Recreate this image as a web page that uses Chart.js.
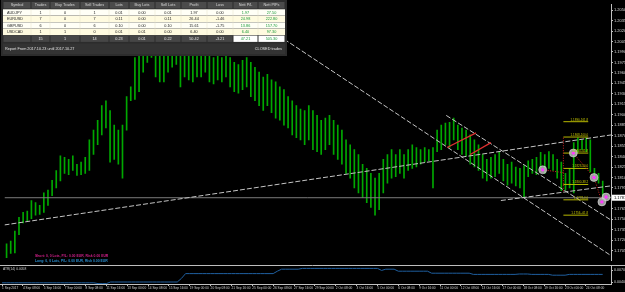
<!DOCTYPE html>
<html>
<head>
<meta charset="utf-8">
<script src="https://cdn.jsdelivr.net/npm/chart.js@4.4.1/dist/chart.umd.min.js"></script>
<style>
  html, body { margin: 0; padding: 0; background: #000; }
  #wrap { position: relative; width: 625px; height: 292px; background: #000; overflow: hidden; }
  #priceCanvas { position: absolute; left: 0; top: 0; }
  #atrCanvas { position: absolute; left: 0; top: 265px; }
</style>
</head>
<body>
<div id="wrap">
  <canvas id="priceCanvas" width="625" height="265"></canvas>
  <canvas id="atrCanvas" width="625" height="27"></canvas>
</div>
<script>
// H4 bars, one entry per bar (high / low)
const barHigh = [
  1.1715, 1.1719, 1.1733, 1.1753, 1.1760, 1.1762, 1.1777, 1.1774, 1.1770, 1.1788,
  1.1792, 1.1806, 1.1820, 1.1841, 1.1839, 1.1836, 1.1841, 1.1829, 1.1832, 1.1839,
  1.1864, 1.1878, 1.1892, 1.1913, 1.1920, 1.1906, 1.1885, 1.1878, 1.1885, 1.1926,
  1.1940, 1.1982, 1.1996, 1.2016, 1.2023, 1.2030, 1.2023, 1.2016, 1.2010, 1.2003,
  1.2010, 1.2016, 1.2010, 1.2003, 1.1996, 1.1989, 1.1996, 1.2016, 1.2010, 1.1996,
  1.1982, 1.1989, 1.1982, 1.1989, 1.1982, 1.1975, 1.1972, 1.1978, 1.1982, 1.1975,
  1.1968, 1.1961, 1.1954, 1.1958, 1.1950, 1.1947, 1.1940, 1.1936, 1.1926, 1.1920,
  1.1913, 1.1908, 1.1906, 1.1913, 1.1906, 1.1899, 1.1892, 1.1895, 1.1899, 1.1892,
  1.1885, 1.1878, 1.1864, 1.1857, 1.1850, 1.1843, 1.1829, 1.1823, 1.1816, 1.1809,
  1.1816, 1.1836, 1.1843, 1.1850, 1.1843, 1.1850, 1.1843, 1.1850, 1.1857, 1.1853,
  1.1850, 1.1853, 1.1850, 1.1853, 1.1878, 1.1885, 1.1888, 1.1889, 1.1895, 1.1885,
  1.1881, 1.1878, 1.1871, 1.1864, 1.1857, 1.1843, 1.1836, 1.1839, 1.1843, 1.1846,
  1.1836, 1.1829, 1.1832, 1.1825, 1.1823, 1.1827, 1.1834, 1.1836, 1.1839, 1.1846,
  1.1843, 1.1847, 1.1843, 1.1836, 1.1832, 1.1816, 1.1823, 1.1860, 1.1867, 1.1864,
  1.1867, 1.1864, 1.1823, 1.1816, 1.1805
];
const barLow = [
  1.1695, 1.1701, 1.1702, 1.1728, 1.1745, 1.1748, 1.1751, 1.1756, 1.1757, 1.1760,
  1.1770, 1.1784, 1.1795, 1.1805, 1.1816, 1.1814, 1.1820, 1.1813, 1.1814, 1.1816,
  1.1820, 1.1843, 1.1857, 1.1871, 1.1881, 1.1832, 1.1836, 1.1829, 1.1809, 1.1878,
  1.1920, 1.1922, 1.1933, 1.1961, 1.1975, 1.1982, 1.1954, 1.1947, 1.1947, 1.1961,
  1.1968, 1.1972, 1.1940, 1.1954, 1.1950, 1.1947, 1.1954, 1.1954, 1.1961, 1.1947,
  1.1944, 1.1950, 1.1947, 1.1954, 1.1940, 1.1933, 1.1931, 1.1936, 1.1940, 1.1926,
  1.1920, 1.1913, 1.1906, 1.1913, 1.1903, 1.1895, 1.1892, 1.1885, 1.1881, 1.1871,
  1.1867, 1.1864, 1.1857, 1.1864, 1.1850, 1.1847, 1.1843, 1.1850, 1.1857, 1.1843,
  1.1836, 1.1829, 1.1816, 1.1809, 1.1795, 1.1788, 1.1781, 1.1774, 1.1767, 1.1756,
  1.1764, 1.1788, 1.1802, 1.1809, 1.1811, 1.1816, 1.1809, 1.1820, 1.1823, 1.1825,
  1.1829, 1.1832, 1.1834, 1.1795, 1.1847, 1.1850, 1.1857, 1.1853, 1.1864, 1.1850,
  1.1843, 1.1841, 1.1829, 1.1825, 1.1820, 1.1809, 1.1805, 1.1809, 1.1811, 1.1816,
  1.1805, 1.1799, 1.1802, 1.1798, 1.1795, 1.1781, 1.1811, 1.1816, 1.1814, 1.1820,
  1.1816, 1.1823, 1.1820, 1.1809, 1.1791, 1.1792, 1.1795, 1.1788, 1.1846, 1.1850,
  1.1847, 1.1818, 1.1805, 1.1802, 1.1781
];
const atrValues = [
  0.0039, 0.0039, 0.0039, 0.0039, 0.0039, 0.0039, 0.0039, 0.0039, 0.0039, 0.0039,
  0.0039, 0.0039, 0.0039, 0.0039, 0.0039, 0.0039, 0.0039, 0.0039, 0.0039, 0.0039,
  0.0039, 0.0039, 0.0039, 0.0037, 0.0037, 0.0037, 0.0041, 0.0041, 0.0041, 0.0041,
  0.0041, 0.0041, 0.0041, 0.0041, 0.0041, 0.0041, 0.0041, 0.0041, 0.0041, 0.0041,
  0.0041, 0.0041, 0.0041, 0.0050, 0.0062, 0.0062, 0.0062, 0.0062, 0.0062, 0.0062,
  0.0062, 0.0062, 0.0062, 0.0062, 0.0062, 0.0062, 0.0062, 0.0062, 0.0062, 0.0062,
  0.0062, 0.0062, 0.0062, 0.0062, 0.0062, 0.0062, 0.0068, 0.0073, 0.0073, 0.0073,
  0.0073, 0.0073, 0.0075, 0.0075, 0.0075, 0.0075, 0.0075, 0.0075, 0.0075, 0.0075,
  0.0075, 0.0075, 0.0075, 0.0075, 0.0075, 0.0075, 0.0075, 0.0075, 0.0075, 0.0075,
  0.0075, 0.0070, 0.0073, 0.0073, 0.0073, 0.0068, 0.0068, 0.0068, 0.0068, 0.0068,
  0.0068, 0.0068, 0.0068, 0.0063, 0.0063, 0.0063, 0.0063, 0.0063, 0.0063, 0.0063,
  0.0063, 0.0063, 0.0063, 0.0060, 0.0060, 0.0060, 0.0060, 0.0060, 0.0060, 0.0060,
  0.0060, 0.0060, 0.0060, 0.0060, 0.0061, 0.0061, 0.0061, 0.0060, 0.0060, 0.0060,
  0.0060, 0.0060, 0.0058, 0.0058, 0.0058, 0.0058, 0.0060, 0.0060, 0.0060, 0.0060,
  0.0060, 0.0060, 0.0060, 0.0060, 0.0060
];

// axis ticks
const priceTicks = [
  1.2050, 1.2035, 1.2020, 1.2005, 1.1990, 1.1975, 1.1960, 1.1945, 1.1930, 1.1915,
  1.1900, 1.1885, 1.1870, 1.1855, 1.1840, 1.1825, 1.1810, 1.1795, 1.1780, 1.1765,
  1.1750, 1.1735, 1.1720, 1.1705
];
const atrTicks = [0.0070, 0.0040];
const xTickBars = [0, 5, 10, 15, 20, 25, 30, 35, 40, 45, 50, 55, 60, 65, 70, 75, 80, 85, 90, 95, 100, 105, 110, 115, 120, 125, 130, 135, 140];
const xTickLabels = [
  '1 Sep 2017', '4 Sep 08:00', '5 Sep 16:00', '7 Sep 00:00', '8 Sep 08:00', '11 Sep 16:00',
  '13 Sep 00:00', '14 Sep 08:00', '15 Sep 16:00', '19 Sep 00:00', '20 Sep 08:00', '21 Sep 16:00',
  '25 Sep 00:00', '26 Sep 08:00', '27 Sep 16:00', '29 Sep 00:00', '2 Oct 08:00', '3 Oct 16:00',
  '5 Oct 00:00', '6 Oct 08:00', '9 Oct 16:00', '11 Oct 00:00', '12 Oct 08:00', '13 Oct 16:00',
  '17 Oct 00:00', '18 Oct 08:00', '19 Oct 16:00', '23 Oct 00:00', '24 Oct 08:00'
];
const currentPrice = 1.1781;
const atrLabel = 'ATR(14) 0.0058';

// drawn objects (bar index, price)
const trendLines = [
  [{ x: -0.5, y: 1.1742 }, { x: 146, y: 1.1871 }],
  [{ x: 119.4, y: 1.1777 }, { x: 146, y: 1.1798 }],
  [{ x: 54.4, y: 1.2058 }, { x: 146, y: 1.1698 }],
  [{ x: 106.2, y: 1.1899 }, { x: 146, y: 1.1749 }]
];
const redLines = [
  [{ x: 106.4, y: 1.1853 }, { x: 113.4, y: 1.1874 }],
  [{ x: 112.0, y: 1.1843 }, { x: 117.0, y: 1.1860 }]
];
const tradeLinks = [
  [{ x: 129.5, y: 1.1821 }, { x: 134.5, y: 1.1817 }],
  [{ x: 134.5, y: 1.1867 }, { x: 134.5, y: 1.1788 }],
  [{ x: 136.9, y: 1.1845 }, { x: 141.9, y: 1.1810 }],
  [{ x: 141.9, y: 1.1810 }, { x: 143.8, y: 1.1775 }]
];
const tradeMarks = [
  { x: 129.5, y: 1.1821 }, { x: 136.9, y: 1.1845 }, { x: 141.9, y: 1.1810 },
  { x: 144.8, y: 1.1782 }, { x: 143.8, y: 1.1775 }
];
const levelFrom = 134.5, levelTo = 140.5;
const levelPrices = [1.1890, 1.1868, 1.1845, 1.1823, 1.1800, 1.1778, 1.1756];
const levelLabels = ['1.1890-161.8', '1.1868-100.0', '1.1845-61.8', '1.1823-50.0', '1.1800-38.2', '1.1778-0.0', '1.1756--61.8'];

// trade summary table
const tableHead = ['Symbol', 'Trades', 'Buy Trades', 'Sell Trades', 'Lots', 'Buy Lots', 'Sell Lots', 'Profit', 'Loss', 'Nett P/L', 'Nett PIPs'];
const tableRows = [
  ['AUDJPY', '1', '0', '1', '0.01', '0.00', '0.01', '1.97', '0.00', '1.97', '27.50'],
  ['EURUSD', '7', '0', '7', '0.11', '0.00', '0.11', '26.44', '-1.46', '24.98', '222.80'],
  ['GBPUSD', '6', '0', '6', '0.10', '0.00', '0.10', '15.61', '-1.75', '13.86', '157.70'],
  ['USDCAD', '1', '1', '0', '0.01', '0.01', '0.00', '6.40', '0.00', '6.40', '97.30']
];
const tableTotal = ['', '15', '1', '14', '0.23', '0.01', '0.22', '50.42', '-3.21', '47.21', '505.30'];
const tableFooter = ['Report From 2017.10.23 until 2017.10.27', 'CLOSED trades'];
const shortText = 'Short: 0, 0 Lots, P/L: 0.00 EUR, Risk 0.00 EUR';
const longText = 'Long: 0, 0 Lots, P/L: 0.00 EUR, Risk 0.00 EUR';

const FONT = '"Liberation Sans", Arial, sans-serif';
const X_MIN = -0.5, X_MAX = 146;
const tableCols = [3, 31, 50, 80, 109, 129, 155, 181, 207, 233, 258, 285];

function segDataset(points, color, dash, width, order) {
    return {
        type: 'line', data: points, borderColor: color, borderWidth: width,
        borderDash: dash, pointRadius: 0, fill: false, tension: 0, order: order
    };
}

function drawTable(ctx) {
    const c = tableCols;
    ctx.fillStyle = '#2c2c2c';
    ctx.fillRect(1, 0, 286, 56);
    ctx.textBaseline = 'middle';
    ctx.font = '3.8px ' + FONT;

    // header
    for (let k = 0; k < tableHead.length; k++) {
        ctx.fillStyle = '#4b4b4b';
        ctx.fillRect(c[k] + 0.5, 2, c[k + 1] - c[k] - 1, 6.5);
        ctx.fillStyle = '#d8d8d8';
        ctx.textAlign = 'center';
        ctx.fillText(tableHead[k], (c[k] + c[k + 1]) / 2, 5.4);
    }

    // symbol rows
    tableRows.forEach((row, r) => {
        const y0 = 9.3 + r * 6.5;
        ctx.fillStyle = r % 2 ? '#fffbe0' : '#fffff6';
        ctx.fillRect(c[0], y0, c[c.length - 1] - c[0], 6.3);
        ctx.strokeStyle = '#e6e2c8';
        ctx.lineWidth = 0.5;
        for (let k = 1; k < c.length - 1; k++) {
            ctx.beginPath(); ctx.moveTo(c[k], y0); ctx.lineTo(c[k], y0 + 6.3); ctx.stroke();
        }
        row.forEach((txt, k) => {
            ctx.fillStyle = k >= 9 ? '#1a9a3a' : '#222';
            if (k === 0) { ctx.textAlign = 'left'; ctx.fillText(txt, c[0] + 4, y0 + 3.3); }
            else { ctx.textAlign = 'center'; ctx.fillText(txt, (c[k] + c[k + 1]) / 2, y0 + 3.3); }
        });
    });

    // totals
    const ty = 35.6;
    tableTotal.forEach((txt, k) => {
        const nett = k >= 9;
        ctx.fillStyle = nett ? '#ffffff' : '#464646';
        ctx.fillRect(c[k] + 0.5, ty, c[k + 1] - c[k] - 1, 6.3);
        ctx.fillStyle = nett ? '#1a9a3a' : '#e4e4e4';
        ctx.textAlign = 'center';
        ctx.fillText(txt, (c[k] + c[k + 1]) / 2, ty + 3.3);
    });

    // footer
    ctx.fillStyle = '#333333';
    ctx.fillRect(c[0], 43.5, c[c.length - 1] - c[0], 10.5);
    ctx.fillStyle = '#e0e0e0';
    ctx.textAlign = 'left';
    ctx.fillText(tableFooter[0], c[0] + 2, 49);
    ctx.textAlign = 'right';
    ctx.fillText(tableFooter[1], c[c.length - 1] - 3, 49);
}

const priceOverlay = {
    id: 'priceOverlay',
    afterDraw(chart) {
        const { ctx, scales: { x, y } } = chart;
        ctx.save();

        // level captions
        ctx.font = '3px ' + FONT;
        ctx.fillStyle = '#c8c800';
        ctx.textAlign = 'right';
        ctx.textBaseline = 'bottom';
        levelPrices.forEach((p, k) => {
            ctx.fillText(levelLabels[k], x.getPixelForValue(levelTo), y.getPixelForValue(p) - 0.3);
        });

        // account info
        ctx.font = 'bold 3.4px ' + FONT;
        ctx.textAlign = 'left';
        ctx.textBaseline = 'middle';
        ctx.fillStyle = '#d0208a';
        ctx.fillText(shortText, 35, 256);
        ctx.fillStyle = '#2a8fd0';
        ctx.fillText(longText, 35, 261);

        // current price tag
        const py = y.getPixelForValue(currentPrice);
        ctx.fillStyle = '#ffffff';
        ctx.fillRect(612, py - 3, 13, 6);
        ctx.fillStyle = '#000';
        ctx.font = '4px ' + FONT;
        ctx.fillText(currentPrice.toFixed(4), 614, py + 0.3);

        drawTable(ctx);
        ctx.restore();
    }
};

const atrOverlay = {
    id: 'atrOverlay',
    afterDraw(chart) {
        const ctx = chart.ctx;
        ctx.save();
        ctx.strokeStyle = '#bdbdbd';
        ctx.lineWidth = 1;
        ctx.beginPath(); ctx.moveTo(0, 0.5); ctx.lineTo(625, 0.5); ctx.stroke();
        ctx.fillStyle = '#d0d0d0';
        ctx.font = '3.3px ' + FONT;
        ctx.textAlign = 'left';
        ctx.textBaseline = 'middle';
        ctx.fillText(atrLabel, 3, 4.2);
        ctx.restore();
    }
};

function rightAxis(min, max, ticks, fontSize) {
    return {
        position: 'right', min: min, max: max,
        afterBuildTicks: s => { s.ticks = ticks.map(v => ({ value: v })); },
        afterFit: s => { s.width = 14; s.paddingTop = 0; s.paddingBottom = 0; },
        border: { color: '#c0c0c0' },
        grid: { drawOnChartArea: false, drawTicks: true, tickLength: 2, color: '#c0c0c0' },
        ticks: {
            color: '#d8d8d8', padding: 1, autoSkip: false,
            font: { size: fontSize, family: FONT },
            callback: v => v.toFixed(4)
        }
    };
}

const datasets = [];
datasets.push({
    type: 'bar',
    data: barHigh.map((h, i) => ({ x: i, y: [barLow[i], h] })),
    backgroundColor: '#00a800', borderWidth: 0, barThickness: 1, grouped: false, order: 10
});
datasets.push(segDataset([{ x: X_MIN, y: currentPrice }, { x: X_MAX, y: currentPrice }], '#7c7c7c', [], 1, 9));
trendLines.forEach(l => datasets.push(segDataset(l, '#c4c4c4', [5, 2], 1, 5)));
redLines.forEach(l => datasets.push(segDataset(l, '#e03030', [], 1.3, 4)));
levelPrices.forEach(p => datasets.push(segDataset([{ x: levelFrom, y: p }, { x: levelTo, y: p }], '#b8b800', [], 1, 4)));
tradeLinks.forEach(l => datasets.push(segDataset(l, '#d02020', [1, 1.5], 1, 3)));
datasets.push({
    type: 'scatter', data: tradeMarks, pointRadius: 4, pointBackgroundColor: 'rgba(185,185,185,0.85)',
    pointBorderColor: '#e8e8e8', pointBorderWidth: 0.5, order: 2
});
datasets.push({
    type: 'scatter', data: tradeMarks, pointRadius: 1.7, pointBackgroundColor: '#ff3cff',
    pointBorderWidth: 0, order: 1
});

new Chart(document.getElementById('priceCanvas'), {
    type: 'bar',
    data: { datasets: datasets },
    options: {
        responsive: false, animation: false, devicePixelRatio: 1,
        layout: { padding: 0 },
        plugins: { legend: { display: false }, tooltip: { enabled: false } },
        scales: {
            x: { type: 'linear', display: false, offset: false, min: X_MIN, max: X_MAX },
            y: rightAxis(1.1691, 1.2058, priceTicks, 4)
        }
    },
    plugins: [priceOverlay]
});

new Chart(document.getElementById('atrCanvas'), {
    type: 'line',
    data: {
        datasets: [{
            data: atrValues.map((v, i) => ({ x: i, y: v })),
            borderColor: '#1f5f9f', borderWidth: 1, pointRadius: 0, tension: 0, fill: false
        }]
    },
    options: {
        responsive: false, animation: false, devicePixelRatio: 1,
        layout: { padding: { top: 1 } },
        plugins: { legend: { display: false }, tooltip: { enabled: false } },
        scales: {
            x: {
                type: 'linear', offset: false, min: X_MIN, max: X_MAX,
                afterBuildTicks: s => { s.ticks = xTickBars.map(v => ({ value: v })); },
                afterFit: s => { s.height = 8; s.paddingLeft = 0; s.paddingRight = 0; },
                border: { color: '#c0c0c0' },
                grid: { drawOnChartArea: false, drawTicks: true, tickLength: 2, color: '#c0c0c0' },
                ticks: {
                    autoSkip: false, maxRotation: 0, minRotation: 0, align: 'start', padding: 0.5,
                    color: '#d0d0d0', font: { size: 3.2, family: FONT },
                    callback: (v, i) => xTickLabels[i]
                }
            },
            y: rightAxis(0.0036, 0.0081, atrTicks, 3.6)
        }
    },
    plugins: [atrOverlay]
});
</script>
</body>
</html>
